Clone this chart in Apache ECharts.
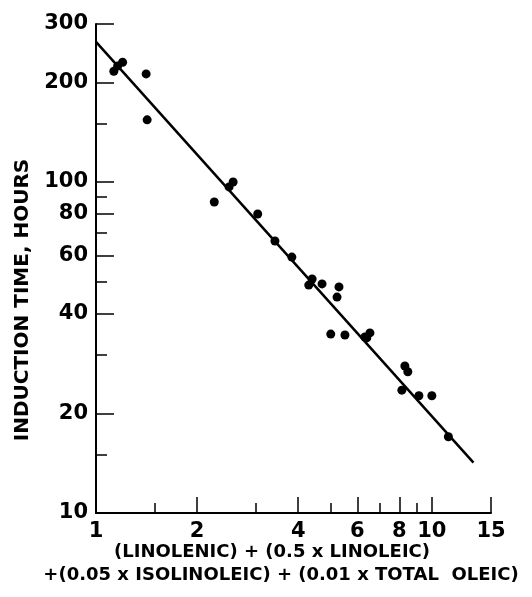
<!DOCTYPE html>
<html>
<head>
<meta charset="utf-8">
<script src="https://cdn.jsdelivr.net/npm/echarts@6/dist/echarts.min.js"></script>
<style>
  html, body { margin: 0; padding: 0; background: #fff; }
  #chart { width: 532px; height: 597px; }
</style>
</head>
<body>
<div id="chart"></div>
<script>
// 数据 ------------------------------------------------------------
var pointsX = [1.13, 1.16, 1.2, 1.41, 1.42, 2.25, 2.49, 2.56, 3.03, 3.41, 3.83,
               4.4, 4.3, 4.71, 5.29, 5.22, 5.0, 5.51, 6.32, 6.54, 6.4,
               8.31, 8.48, 8.14, 9.15, 10.0, 11.2];
var pointsY = [216, 224, 230, 212, 154, 87, 96.6, 100, 80, 66.3, 59.3,
               50.9, 48.8, 49.2, 48.2, 44.9, 34.7, 34.5, 34, 35, 33.8,
               27.8, 26.7, 23.5, 22.6, 22.6, 17];
var fitX = [1, 13.3];
var fitY = [265, 14.2];

var xMajorTicks = [1, 2, 4, 6, 8, 10, 15];
var xMinorTicks = [1.5, 3, 5, 7, 9];
var yMajorTicks = [10, 20, 40, 60, 80, 100, 200, 300];
var yMinorTicks = [15, 30, 50, 70, 90, 150];

var xTitle1 = '(LINOLENIC) + (0.5 x LINOLEIC)';
var xTitle2 = '+(0.05 x ISOLINOLEIC) + (0.01 x TOTAL  OLEIC)';
var yTitle = 'INDUCTION TIME, HOURS';

var myChart = echarts.init(document.getElementById('chart'));

var font = 'DejaVu Sans';
var labelStyle = { color: '#000', fontFamily: font, fontWeight: 'bold', fontSize: 21 };

var scatterData = pointsX.map(function (x, i) { return [x, pointsY[i]]; });
var fitData = fitX.map(function (x, i) { return [x, fitY[i]]; });

var option = {
    backgroundColor: '#fff',
    animation: false,
    grid: { left: 96, top: 24, right: 41, bottom: 84 },
    xAxis: [{
        type: 'log', logBase: 10, min: 1, max: 15,
        axisLine: { show: true, lineStyle: { color: '#000', width: 2 } },
        axisTick: { show: true, inside: true, length: 16, customValues: xMajorTicks,
                    lineStyle: { color: '#000', width: 1.5 } },
        axisLabel: Object.assign({ customValues: xMajorTicks, margin: 8 }, labelStyle),
        splitLine: { show: false }, minorTick: { show: false }
    }, {
        type: 'log', logBase: 10, min: 1, max: 15, position: 'bottom',
        axisLine: { show: false },
        axisTick: { show: true, inside: true, length: 10, customValues: xMinorTicks,
                    lineStyle: { color: '#000', width: 1.5 } },
        axisLabel: { show: false },
        splitLine: { show: false }
    }],
    yAxis: [{
        type: 'log', logBase: 10, min: 10, max: 300,
        axisLine: { show: true, lineStyle: { color: '#000', width: 2 } },
        axisTick: { show: true, inside: true, length: 18, customValues: yMajorTicks,
                    lineStyle: { color: '#000', width: 1.5 } },
        axisLabel: Object.assign({ customValues: yMajorTicks, margin: 8 }, labelStyle),
        splitLine: { show: false }, minorTick: { show: false }
    }, {
        type: 'log', logBase: 10, min: 10, max: 300, position: 'left',
        axisLine: { show: false },
        axisTick: { show: true, inside: true, length: 11, customValues: yMinorTicks,
                    lineStyle: { color: '#000', width: 1.5 } },
        axisLabel: { show: false },
        splitLine: { show: false }
    }],
    series: [{
        type: 'line',
        data: fitData,
        symbol: 'none',
        lineStyle: { color: '#000', width: 2.5 },
        silent: true
    }, {
        type: 'scatter',
        data: scatterData,
        symbol: 'circle',
        symbolSize: 9,
        itemStyle: { color: '#000', opacity: 1 }
    }],
    graphic: [{
        type: 'text', x: 272, y: 552,
        style: { text: xTitle1, fill: '#000', font: 'bold 18px "DejaVu Sans"',
                 align: 'center', verticalAlign: 'middle' }
    }, {
        type: 'text', x: 281, y: 575,
        style: { text: xTitle2, fill: '#000', font: 'bold 18px "DejaVu Sans"',
                 align: 'center', verticalAlign: 'middle' }
    }, {
        type: 'text', x: 23, y: 300, rotation: Math.PI / 2,
        style: { text: yTitle, fill: '#000', font: 'bold 20px "DejaVu Sans"',
                 align: 'center', verticalAlign: 'middle' }
    }]
};

myChart.setOption(option);
</script>
</body>
</html>
